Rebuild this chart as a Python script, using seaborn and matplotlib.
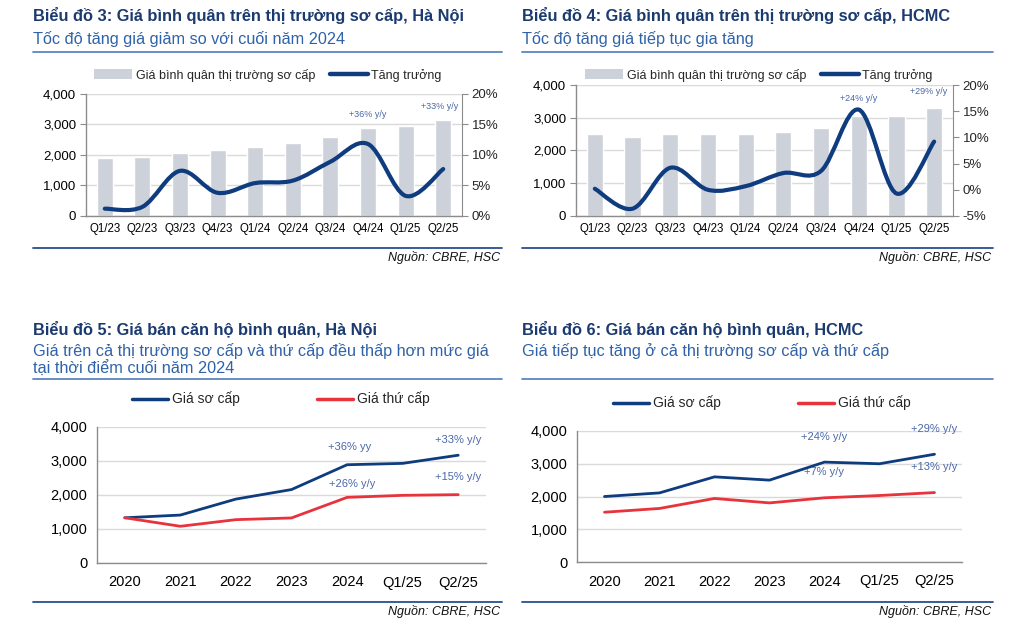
import numpy as np
import pandas as pd
import matplotlib
matplotlib.use("Agg")
import matplotlib.pyplot as plt
from matplotlib.path import Path
from matplotlib.patches import PathPatch
from matplotlib.lines import Line2D
from matplotlib.patches import Patch
import seaborn as sns

# ---------------- data ----------------
quarters = ["Q1/23", "Q2/23", "Q3/23", "Q4/23", "Q1/24", "Q2/24", "Q3/24", "Q4/24", "Q1/25", "Q2/25"]
hn_primary_q = [1890, 1920, 2050, 2150, 2250, 2380, 2580, 2880, 2940, 3150]
hn_growth_q = [1.2, 1.5, 7.4, 3.8, 5.4, 5.8, 8.9, 11.8, 3.3, 7.7]
hcm_primary_q = [2500, 2410, 2500, 2500, 2500, 2560, 2680, 3060, 3050, 3310]
hcm_growth_q = [0.2, -3.6, 4.2, 0.0, 0.7, 3.2, 3.6, 15.3, -0.7, 9.2]

periods = ["2020", "2021", "2022", "2023", "2024", "Q1/25", "Q2/25"]
hn_primary = [1330, 1410, 1880, 2160, 2890, 2930, 3170]
hn_secondary = [1330, 1080, 1275, 1325, 1930, 1990, 2010]
hcm_primary = [2000, 2110, 2600, 2500, 3050, 3000, 3290]
hcm_secondary = [1520, 1635, 1940, 1805, 1960, 2030, 2120]

left_ticks = [0, 1000, 2000, 3000, 4000]
left_labels = ["0", "1,000", "2,000", "3,000", "4,000"]
hn_right_ticks = [0, 5, 10, 15, 20]
hcm_right_ticks = [-5, 0, 5, 10, 15, 20]

titles = ["Biểu đồ 3: Giá bình quân trên thị trường sơ cấp, Hà Nội",
          "Biểu đồ 4: Giá bình quân trên thị trường sơ cấp, HCMC",
          "Biểu đồ 5: Giá bán căn hộ bình quân, Hà Nội",
          "Biểu đồ 6: Giá bán căn hộ bình quân, HCMC"]
subtitles = ["Tốc độ tăng giá giảm so với cuối năm 2024",
             "Tốc độ tăng giá tiếp tục gia tăng",
             "Giá trên cả thị trường sơ cấp và thứ cấp đều thấp hơn mức giá\ntại thời điểm cuối năm 2024",
             "Giá tiếp tục tăng ở cả thị trường sơ cấp và thứ cấp"]
source = "Nguồn: CBRE, HSC"
bar_label = "Giá bình quân thị trường sơ cấp"
growth_label = "Tăng trưởng"
prim_label = "Giá sơ cấp"
sec_label = "Giá thứ cấp"

# ---------------- style ----------------
sns.set_style("white")
plt.rcParams["font.family"] = ["Liberation Sans", "DejaVu Sans"]

NAVY = "#0E3C7E"
RED = "#E8323C"
GRAY_BAR = "#CDD1D9"
TITLE_C = "#1B3A70"
SUB_C = "#2F62A8"
ANN_C = "#4A67A8"
SPINE_C = "#8C8C8C"
GRID_C = "#DADADA"
TITLE_FS = 11.8
SUB_FS = 11.7

W, H = 1013, 628
fig = plt.figure(figsize=(W / 100, H / 100), dpi=100)


def fx(px):
    return px / W


def fy(py):
    return 1 - py / H


def axes_px(x0, y0, x1, y1):
    return fig.add_axes([fx(x0), fy(y1), fx(x1 - x0), (y1 - y0) / H])


def header(x0, x1, title, subtitle, ytitle, ysub, yline, ybottom):
    fig.text(fx(x0), fy(ytitle), title, fontsize=TITLE_FS, fontweight="bold", color=TITLE_C,
             va="center", ha="left")
    fig.text(fx(x0), fy(ysub), subtitle, fontsize=SUB_FS, color=SUB_C, va="top", ha="left",
             linespacing=1.1)
    fig.add_artist(Line2D([fx(x0), fx(x1)], [fy(yline), fy(yline)], color="#5C86C0", lw=1.3))
    fig.add_artist(Line2D([fx(x0), fx(x1)], [fy(ybottom), fy(ybottom)], color="#2A4E8C", lw=1.3))
    fig.text(fx(x1 - 2), fy(ybottom + 10), source, fontsize=9, style="italic", color="#111111",
             ha="right", va="center")


def smooth_path(xs, ys):
    pts = np.column_stack([xs, ys]).astype(float)
    n = len(pts)
    verts = [pts[0]]
    codes = [Path.MOVETO]
    for i in range(n - 1):
        p0 = pts[max(i - 1, 0)]
        p1 = pts[i]
        p2 = pts[i + 1]
        p3 = pts[min(i + 2, n - 1)]
        c1 = p1 + (p2 - p0) / 6.0
        c2 = p2 - (p3 - p1) / 6.0
        verts += [c1, c2, p2]
        codes += [Path.CURVE4] * 3
    return Path(np.array(verts), codes)


def style_axes(ax, ncat, labelsize_y, labelsize_x, xpad):
    ax.spines["top"].set_visible(False)
    ax.spines["right"].set_visible(False)
    for s in ["left", "bottom"]:
        ax.spines[s].set_color(SPINE_C)
        ax.spines[s].set_linewidth(1.0)
    ax.set_xlim(-0.5, ncat - 0.5)
    ax.set_xticks(np.arange(-0.5, ncat, 1.0), minor=True)
    ax.tick_params(axis="x", which="major", length=0, labelsize=labelsize_x, pad=xpad, colors="black")
    ax.tick_params(axis="x", which="minor", length=4, color=SPINE_C, direction="out")
    ax.tick_params(axis="y", which="major", length=4, color=SPINE_C, labelsize=labelsize_y,
                   direction="out", labelcolor="black", pad=3)
    ax.set_ylim(0, 4000)
    ax.set_yticks(left_ticks, left_labels)
    ax.yaxis.grid(True, color=GRID_C, lw=1.0)
    ax.xaxis.grid(False)
    ax.set_axisbelow(True)
    ax.set_xlabel("")
    ax.set_ylabel("")


# ---------------- top charts (bars + smoothed growth) ----------------
top_specs = [
    dict(x0=33, x1=502, ax=(86, 94, 462, 216), bars=hn_primary_q, growth=hn_growth_q,
         rticks=hn_right_ticks, title=titles[0], sub=subtitles[0], legend_x=268,
         anns=[("+36% y/y", 7.0, 3340), ("+33% y/y", 8.9, 3600)]),
    dict(x0=522, x1=993, ax=(576, 85, 953, 216), bars=hcm_primary_q, growth=hcm_growth_q,
         rticks=hcm_right_ticks, title=titles[1], sub=subtitles[1], legend_x=759,
         anns=[("+24% y/y", 7.0, 3600), ("+29% y/y", 8.85, 3790)]),
]

for sp in top_specs:
    header(sp["x0"], sp["x1"], sp["title"], sp["sub"], 15, 31, 52, 248)
    ax = axes_px(*sp["ax"])
    df = pd.DataFrame({"q": quarters, "v": sp["bars"]})
    sns.barplot(data=df, x="q", y="v", color=GRAY_BAR, width=0.43, saturation=1, ax=ax, zorder=2)
    style_axes(ax, len(quarters), 9.5, 8.3, 5)
    ax2 = ax.twinx()
    rt = sp["rticks"]
    ax2.set_ylim(rt[0], rt[-1])
    ax2.set_yticks(rt, [f"{t}%" for t in rt])
    ax2.tick_params(axis="y", length=4, color=SPINE_C, labelsize=9.5, direction="out", pad=3)
    for s in ["top", "left", "bottom"]:
        ax2.spines[s].set_visible(False)
    ax2.spines["right"].set_color(SPINE_C)
    ax2.set_xlim(-0.5, len(quarters) - 0.5)
    ax2.grid(False)
    path = smooth_path(np.arange(len(quarters)), sp["growth"])
    ax2.add_patch(PathPatch(path, facecolor="none", edgecolor=NAVY, lw=3.0, capstyle="round",
                            joinstyle="round", zorder=5))
    for txt, xx, yy in sp["anns"]:
        ax.text(xx, yy, txt, fontsize=6.5, color=ANN_C, ha="center", va="center", clip_on=False)
    handles = [Patch(facecolor=GRAY_BAR, edgecolor="none"),
               Line2D([0], [0], color=NAVY, lw=3.2)]
    fig.legend(handles, [bar_label, growth_label], loc="center",
               bbox_to_anchor=(fx(sp["legend_x"]), fy(75)),
               ncol=2, frameon=False, fontsize=9, handlelength=3.0, handleheight=0.8,
               columnspacing=1.2, handletextpad=0.3)

# ---------------- bottom charts (lines) ----------------
bot_specs = [
    dict(x0=33, x1=502, ax=(97, 427, 486, 563), prim=hn_primary, sec=hn_secondary,
         title=titles[2], sub=subtitles[2], legend_x=281, legend_y=399,
         anns=[("+36% yy", 4.05, 3420), ("+33% y/y", 6.0, 3620), ("+26% y/y", 4.1, 2330),
               ("+15% y/y", 6.0, 2530)]),
    dict(x0=522, x1=993, ax=(577, 431, 962, 562), prim=hcm_primary, sec=hcm_secondary,
         title=titles[3], sub=subtitles[3], legend_x=762, legend_y=403,
         anns=[("+24% y/y", 4.0, 3820), ("+29% y/y", 6.0, 4060), ("+7% y/y", 4.0, 2750),
               ("+13% y/y", 6.0, 2900)]),
]

for sp in bot_specs:
    header(sp["x0"], sp["x1"], sp["title"], sp["sub"], 329, 343, 379, 602)
    ax = axes_px(*sp["ax"])
    df = pd.DataFrame({"p": periods * 2,
                       "v": sp["prim"] + sp["sec"],
                       "s": [prim_label] * len(periods) + [sec_label] * len(periods)})
    sns.lineplot(data=df, x="p", y="v", hue="s", palette={prim_label: NAVY, sec_label: RED},
                 lw=2.0, ax=ax, legend=False, sort=False)
    style_axes(ax, len(periods), 10.5, 10.5, 9)
    for txt, xx, yy in sp["anns"]:
        ax.text(xx, yy, txt, fontsize=8, color=ANN_C, ha="center", va="center", clip_on=False)
    handles = [Line2D([0], [0], color=NAVY, lw=2.5), Line2D([0], [0], color=RED, lw=2.5)]
    fig.legend(handles, [prim_label, sec_label], loc="center",
               bbox_to_anchor=(fx(sp["legend_x"]), fy(sp["legend_y"])), ncol=2, frameon=False,
               fontsize=10, handlelength=2.6, columnspacing=5.5, handletextpad=0.3)

fig.savefig("out.png", dpi=100, facecolor="white")
